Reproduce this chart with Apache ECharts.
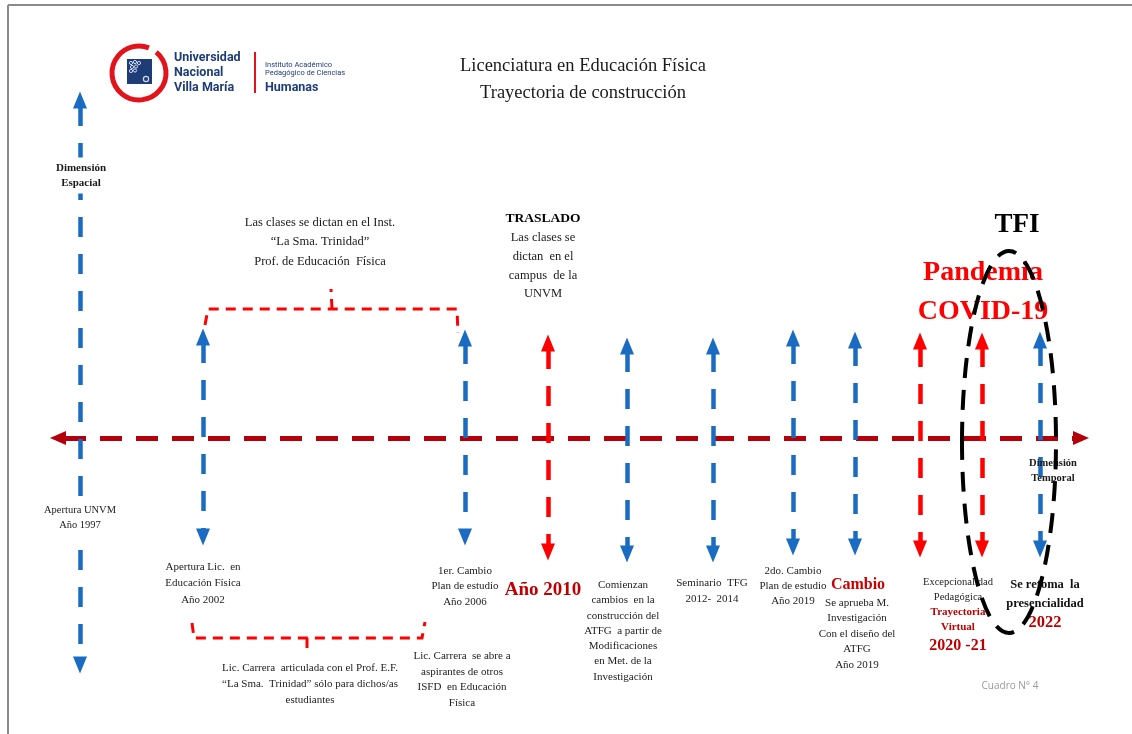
<!DOCTYPE html>
<html><head><meta charset="utf-8">
<script src="https://cdn.jsdelivr.net/npm/echarts@6/dist/echarts.min.js"></script>
<style>html,body{margin:0;padding:0;background:#fff}#c{width:1132px;height:734px}</style>
</head><body><div id="c"></div>
<script>
// ---- Diagram data (coordinates in the diagram's own 0..1132 x 0..734 space) ----
const eventX      = [80, 203, 465, 548, 627, 713, 793, 855, 920, 982, 1040];
const eventTop    = [92, 329, 330, 335, 338, 338, 330, 332, 333, 333, 332];
const eventBottom = [673, 545, 545, 560, 562, 562, 555, 555, 557, 557, 557];
const eventKind   = ['azul','azul','azul','rojo','azul','azul','azul','azul','rojo','rojo','azul'];

const timelineY = 438;
const timelineStart = 50;
const timelineEnd = 1089;

const bracketTop    = [[205,325],[208,309],[457,309],[458,333]];
const bracketTopTick = [[332,309],[331,289]];
const bracketBottom = [[192,623],[194,638],[422,638],[425,622]];
const bracketBottomTick = [[307,638],[307,649]];

const tfiEllipse = {center:[1009,442], rx:47, ry:191};

const titleLines = ['Licenciatura en Educación Física','Trayectoria de construcción'];

const blockText = [
  ['Dimensión','Espacial'],
  ['Apertura UNVM','Año 1997'],
  ['Las clases se dictan en el Inst.','“La Sma. Trinidad”','Prof. de Educación  Física'],
  ['{b|TRASLADO}','{n|Las clases se}','{n|dictan  en el}','{n|campus  de la}','{n|UNVM}'],
  ['Apertura Lic.  en','Educación Física','Año 2002'],
  ['1er. Cambio','Plan de estudio','Año 2006'],
  ['Año 2010'],
  ['Lic. Carrera  articulada con el Prof. E.F.','“La Sma.  Trinidad” sólo para dichos/as','estudiantes'],
  ['Lic. Carrera  se abre a','aspirantes de otros','ISFD  en Educación','Física'],
  ['Comienzan','cambios  en la','construcción del','ATFG  a partir de','Modificaciones','en Met. de la','Investigación'],
  ['Seminario  TFG','2012-  2014'],
  ['2do. Cambio','Plan de estudio','Año 2019'],
  ['Cambio'],
  ['Se aprueba M.','Investigación','Con el diseño del','ATFG','Año 2019'],
  ['{n|Excepcionalidad}','{n|Pedagógica}','{r|Trayectoria}','{r|Virtual}','{y|2020 -21}'],
  ['{b|Se retoma  la}','{b|presencialidad}','{y|2022}'],
  ['Dimensión','Temporal'],
  ['TFI'],
  ['Pandemia','COVID-19'],
  ['Cuadro N° 4']
];
const blockAt = [
  [81,175.5],[80,517.5],[320,242],[543,256.5],[203,583.5],[465,586.5],[543,590],
  [310,684],[462,679.5],[623,631],[712,591],[793,586],[858,585],[857,634],
  [958,616],[1045,604],[1053,470.5],[1017,225],[983,292.5],[1010,686]
];

// ---- styles ----
const SERIF = '"Liberation Serif","Times New Roman",serif';
const BLUE = '#1A6CC2', RED = '#FF0000', DARKRED = '#B3000B';
const kindColor = {azul: BLUE, rojo: RED};
const blockStyle = [
  {fontSize:11, fontWeight:'bold', lineHeight:15, color:'#1a1a1a', backgroundColor:'#fff', padding:[3,3]},
  {fontSize:10.5, lineHeight:15, color:'#222', backgroundColor:'#fff', padding:[3,2]},
  {fontSize:12.5, lineHeight:19.5, color:'#1a1a1a'},
  {fontSize:12.5, lineHeight:18.8, color:'#1a1a1a', rich:{b:{fontSize:13.5, fontWeight:'bold', lineHeight:18.8, color:'#000', fontFamily:SERIF}, n:{fontSize:12.5, lineHeight:18.8, color:'#1a1a1a', fontFamily:SERIF}}},
  {fontSize:11, lineHeight:16.5, color:'#222'},
  {fontSize:11, lineHeight:15.5, color:'#222'},
  {fontSize:19, fontWeight:'bold', color:'#C00000'},
  {fontSize:11, lineHeight:16, color:'#222'},
  {fontSize:11, lineHeight:15.7, color:'#222'},
  {fontSize:11, lineHeight:15.3, color:'#222'},
  {fontSize:11, lineHeight:16, color:'#222'},
  {fontSize:11, lineHeight:15, color:'#222'},
  {fontSize:16, fontWeight:'bold', color:'#CC0000'},
  {fontSize:11, lineHeight:15.5, color:'#222'},
  {fontSize:11, color:'#222', rich:{
    n:{fontSize:10.5, lineHeight:15, color:'#222', fontFamily:SERIF},
    r:{fontSize:11, fontWeight:'bold', lineHeight:15, color:'#C00000', fontFamily:SERIF},
    y:{fontSize:16, fontWeight:'bold', lineHeight:22, color:'#C00000', fontFamily:SERIF}}},
  {fontSize:12.5, color:'#111', rich:{
    b:{fontSize:12.5, fontWeight:'bold', lineHeight:19, color:'#111', fontFamily:SERIF},
    y:{fontSize:16.5, fontWeight:'bold', lineHeight:19, color:'#C00000', fontFamily:SERIF}}},
  {fontSize:10.5, fontWeight:'bold', lineHeight:15, color:'#1a1a1a'},
  {fontSize:27, fontWeight:'bold', color:'#000'},
  {fontSize:28, fontWeight:'bold', lineHeight:39, color:'#FF0000'},
  {fontSize:10, color:'#999', fontFamily:'"Open Sans","Noto Sans",sans-serif'}
];

// ---- build series data ----
const shaftData = eventX.map((x,i)=>({
  coords:[[x, eventTop[i]+14],[x, eventBottom[i]-14]],
  lineStyle:{color: kindColor[eventKind[i]]}
}));
const headData = [];
eventX.forEach((x,i)=>{
  const c = kindColor[eventKind[i]];
  headData.push({value:[x, eventTop[i]+8], symbolRotate:0, itemStyle:{color:c, opacity:1}});
  headData.push({value:[x, eventBottom[i]-8], symbolRotate:180, itemStyle:{color:c, opacity:1}});
});
const timelineHeads = [
  {value:[timelineStart+8, timelineY], symbolRotate:90},
  {value:[timelineEnd-8, timelineY], symbolRotate:-90}
];
const labelData = blockText.map((lines,i)=>{
  const st = blockStyle[i];
  return {
    value: blockAt[i],
    label: Object.assign({show:true, position:'inside', align:'center', verticalAlign:'middle', opacity:1,
      fontFamily: SERIF, formatter: lines.join('\n')}, st)
  };
});
labelData.push({
  value:[583, 79.5],
  label:{show:true, position:'inside', align:'center', verticalAlign:'middle', fontFamily:SERIF, opacity:1,
    fontSize:18.5, lineHeight:27, color:'#1a1a1a', formatter:titleLines.join('\n')}
});

const chart = echarts.init(document.getElementById('c'));
chart.setOption({
  animation:false,
  backgroundColor:'#fff',
  grid:{left:0,right:0,top:0,bottom:0},
  xAxis:{type:'value', min:0, max:1132, show:false},
  yAxis:{type:'value', min:0, max:734, inverse:true, show:false},
  series:[
    { // frame
      type:'lines', coordinateSystem:'cartesian2d', silent:true, z:1,
      lineStyle:{color:'#8a8a8a', width:2, opacity:1},
      data:[{coords:[[8,5],[1132,5]]},{coords:[[8,5],[8,734]]}]
    },
    { // timeline
      type:'lines', coordinateSystem:'cartesian2d', silent:true, z:2,
      lineStyle:{color:DARKRED, width:5, type:[22,14], opacity:1},
      data:[{coords:[[timelineStart+14, timelineY],[timelineEnd-14, timelineY]]}]
    },
    { // event shafts
      type:'lines', coordinateSystem:'cartesian2d', silent:true, z:3,
      lineStyle:{width:4.5, type:[20,17], opacity:1},
      data:shaftData
    },
    { // brackets
      type:'lines', coordinateSystem:'cartesian2d', polyline:true, silent:true, z:3,
      lineStyle:{color:RED, width:3, type:[10,7], opacity:1},
      data:[{coords:bracketTop},{coords:bracketTopTick},{coords:bracketBottom},{coords:bracketBottomTick}]
    },
    { // arrow heads
      type:'scatter', symbol:'triangle', symbolSize:[14,17], silent:true, z:4,
      itemStyle:{opacity:1},
      data:headData
    },
    {
      type:'scatter', symbol:'triangle', symbolSize:[14,16], silent:true, z:4,
      itemStyle:{color:DARKRED, opacity:1}, data:timelineHeads
    },
    { // texts
      type:'scatter', symbolSize:1, silent:true, z:5,
      itemStyle:{color:'rgba(0,0,0,0)', opacity:1},
      data:labelData
    }
  ]
});

// ---- overlays: TFI ellipse and logo ----
const pc = chart.convertToPixel({gridIndex:0}, tfiEllipse.center);
const pr = chart.convertToPixel({gridIndex:0}, [tfiEllipse.center[0]+tfiEllipse.rx, tfiEllipse.center[1]+tfiEllipse.ry]);
chart.setOption({
  graphic:[
    {type:'ellipse', z:100, silent:true,
     shape:{cx:pc[0], cy:pc[1], rx:Math.abs(pr[0]-pc[0]), ry:Math.abs(pr[1]-pc[1])},
     style:{fill:'none', stroke:'#000', lineWidth:4, lineDash:[20,12]}},
    {type:'group', z:100, silent:true, children:[
      {type:'arc', shape:{cx:139, cy:73, r:27, startAngle:-Math.PI*0.28, endAngle:Math.PI*1.62, clockwise:true},
       style:{stroke:'#E3131B', lineWidth:5, fill:'none'}},
      {type:'rect', shape:{x:127, y:59, width:25, height:25}, style:{fill:'#1E3C78'}},
      {type:'circle', shape:{cx:131, cy:63, r:1.6}, style:{fill:'none', stroke:'#cfd8ea', lineWidth:1}},
      {type:'circle', shape:{cx:135, cy:62, r:1.6}, style:{fill:'none', stroke:'#cfd8ea', lineWidth:1}},
      {type:'circle', shape:{cx:139, cy:63, r:1.6}, style:{fill:'none', stroke:'#cfd8ea', lineWidth:1}},
      {type:'circle', shape:{cx:132, cy:67, r:1.6}, style:{fill:'none', stroke:'#cfd8ea', lineWidth:1}},
      {type:'circle', shape:{cx:136, cy:66.5, r:1.6}, style:{fill:'none', stroke:'#cfd8ea', lineWidth:1}},
      {type:'circle', shape:{cx:131, cy:71, r:1.6}, style:{fill:'none', stroke:'#cfd8ea', lineWidth:1}},
      {type:'circle', shape:{cx:135, cy:70.5, r:1.6}, style:{fill:'none', stroke:'#cfd8ea', lineWidth:1}},
      {type:'circle', shape:{cx:146, cy:79, r:2.6}, style:{fill:'none', stroke:'#cfd8ea', lineWidth:1.2}},
      {type:'text', x:174, y:58, style:{text:'Universidad', font:'bold 12.5px Roboto, sans-serif', fill:'#1E3C78', verticalAlign:'middle'}},
      {type:'text', x:174, y:73, style:{text:'Nacional', font:'bold 12.5px Roboto, sans-serif', fill:'#1E3C78', verticalAlign:'middle'}},
      {type:'text', x:174, y:88, style:{text:'Villa María', font:'bold 12.5px Roboto, sans-serif', fill:'#1E3C78', verticalAlign:'middle'}},
      {type:'rect', shape:{x:254, y:52, width:2, height:41}, style:{fill:'#E3131B'}},
      {type:'text', x:265, y:65, style:{text:'Instituto Académico', font:'7.5px Roboto, sans-serif', fill:'#1E3C78', verticalAlign:'middle'}},
      {type:'text', x:265, y:73.5, style:{text:'Pedagógico de Ciencias', font:'7.5px Roboto, sans-serif', fill:'#1E3C78', verticalAlign:'middle'}},
      {type:'text', x:265, y:88, style:{text:'Humanas', font:'bold 12.5px Roboto, sans-serif', fill:'#1E3C78', verticalAlign:'middle'}}
    ]}
  ]
});
</script>
</body></html>
